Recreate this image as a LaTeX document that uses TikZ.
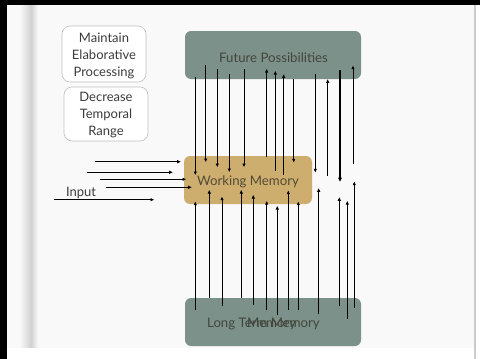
\documentclass[tikz,border=0pt]{standalone}
\usepackage{fontspec}
\setmainfont{Lato}
\usetikzlibrary{arrows.meta}
\definecolor{fpgreen}{RGB}{124,145,138}
\definecolor{wmtan}{RGB}{205,174,110}
\definecolor{boxtext}{RGB}{66,70,60}
\definecolor{wmtext}{RGB}{84,74,54}
\definecolor{bg}{RGB}{249,249,249}
\definecolor{sidetext}{RGB}{60,60,60}
\begin{document}
\begin{tikzpicture}[x=1pt,y=-1pt,
  arr/.style={-{Triangle[length=3.5pt,width=3pt]}, line width=0.8pt},
  thickarr/.style={-{Triangle[length=4pt,width=3.5pt]}, line width=1.6pt},
  bigbox/.style={rounded corners=6pt, inner sep=0pt},
  boxlabel/.style={inner sep=0pt, font=\fontsize{13.2}{15}\selectfont},
  sidebox/.style={draw=black!25, line width=0.6pt, fill=white, rounded corners=8pt, inner sep=0pt},
  sidelabel/.style={inner sep=0pt, align=center, text=sidetext, font=\fontsize{13}{17}\selectfont}]
\useasboundingbox (0,0) rectangle (480,359);
% frame
\fill[black] (0,0) rectangle (480,359);
\fill[bg] (7,5) rectangle (480,359);
\shade[left color=bg, right color=black!18] (20,5) rectangle (31,359);
\shade[left color=black!18, right color=bg] (31,5) rectangle (38,359);
\fill[black!20] (474,5) rectangle (476,359);
\fill[white] (476,5) rectangle (480,359);
\fill[white] (7,348) rectangle (474,359);
% side boxes
\node[sidebox, minimum width=84, minimum height=56] (mep) at (104,54) {};
\node[sidelabel] (mept) at (104,56) {Maintain\\Elaborative\\Processing};
\node[sidebox, minimum width=84, minimum height=54] (dtr) at (106,114) {};
\node[sidelabel] (dtrt) at (106,115) {Decrease\\Temporal\\Range};
% main boxes
\node[bigbox, fill=fpgreen, minimum width=176, minimum height=48] (fp) at (273,55) {};
\node[boxlabel, text=boxtext] (fpt) at (273.5,58) {Future Possibilities};
\node[bigbox, fill=wmtan, minimum width=128, minimum height=48] (wm) at (248,180) {};
\node[boxlabel, text=wmtext] (wmt) at (248,182) {Working Memory};
\node[bigbox, fill=fpgreen, minimum width=176, minimum height=48] (ltm) at (273,322) {};
\node[boxlabel, text=boxtext, anchor=west] (ltma) at (207,324) {Long Term Memory};
\node[boxlabel, text=boxtext, anchor=west] (ltmb) at (247,324) {Memory};
% input label
\node[inner sep=0pt, text=sidetext, font=\fontsize{13}{15}\selectfont] (inp) at (81,193) {Input};
% arrows
\foreach \xa/\ya/\xb/\yb [count=\i] in {
  195.3/76.7/195.3/175, 205.7/65/205.7/162, 217.3/69/217.3/167,
  229.3/74/229.3/172, 244/69/244/167, 293.7/79.3/293.7/162.3,
  315.3/74/315.3/172.3,
  266.7/157/266.7/69, 275.3/170.7/275.3/71, 283.7/175/283.7/74.3,
  327.7/175.7/327.7/79.3, 353/164/353/65.7,
  195.3/310/195.3/201.7, 209.3/297.7/209.3/190, 222/306/222/196.7,
  241.3/298.3/241.3/190, 253.3/305/253.3/195, 266.7/310/266.7/201,
  277.3/315/277.3/206, 288.3/310/288.3/190.7, 298.3/310/298.3/201.7,
  318.7/314/318.7/188.3, 339.3/306/339.3/197.3, 347.3/319/347.3/201,
  354.3/307.7/354.3/181.7,
  95/161.7/180.7/161.7, 87.3/172.3/172.7/172.3, 100/179.3/186/179.3,
  106/187.3/191.7/187.3, 54/199.7/154/199.7} {
  \coordinate (s\i) at (\xa,\ya);
  \coordinate (e\i) at (\xb,\yb);
  \draw[arr] (s\i) -- (e\i);
}
\coordinate (ts) at (340,70);
\coordinate (te) at (340,181.7);
\draw[thickarr] (ts) -- (te);
\end{tikzpicture}
\end{document}
